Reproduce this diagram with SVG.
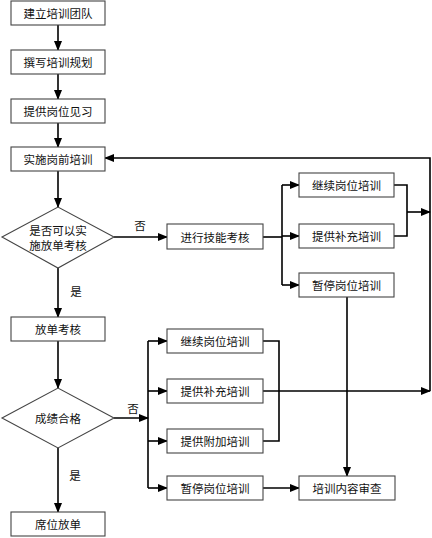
<svg xmlns="http://www.w3.org/2000/svg" width="432" height="538" viewBox="0 0 432 538">
<style>
.box{fill:#fff;stroke:#444;stroke-width:1.1}
.t{font-family:"Noto Sans CJK SC","Noto Sans",sans-serif;font-size:11.5px;fill:#111;text-anchor:middle;dominant-baseline:central}
.c{fill:none;stroke:#000;stroke-width:1.6}
.a{marker-end:url(#ah)}
</style>
<defs>
<marker id="ah" markerUnits="userSpaceOnUse" markerWidth="10" markerHeight="8" refX="9" refY="4" orient="auto">
<path d="M0,0 L10,4 L0,8 Z" fill="#000"/>
</marker>
</defs>
<g id="connectors">
<line class="c a" x1="58" y1="25" x2="58" y2="50"/>
<line class="c a" x1="58" y1="74" x2="58" y2="99"/>
<line class="c a" x1="58" y1="123" x2="58" y2="147"/>
<line class="c a" x1="58" y1="171" x2="58" y2="207"/>
<line class="c a" x1="58" y1="268" x2="58" y2="317"/>
<line class="c a" x1="58" y1="341" x2="58" y2="388"/>
<line class="c a" x1="58" y1="448" x2="58" y2="512"/>
<line class="c a" x1="114" y1="237" x2="167" y2="237"/>
<line class="c" x1="263" y1="237" x2="282" y2="237"/>
<line class="c" x1="282" y1="185" x2="282" y2="285"/>
<line class="c a" x1="282" y1="185" x2="299" y2="185"/>
<line class="c a" x1="282" y1="236" x2="299" y2="236"/>
<line class="c a" x1="282" y1="285" x2="299" y2="285"/>
<polyline class="c" points="394,185 407,185 407,236 394,236"/>
<line class="c a" x1="407" y1="212" x2="430" y2="212"/>
<polyline class="c a" points="430,391 430,158 105,158"/>
<line class="c a" x1="347" y1="297" x2="347" y2="476"/>
<line class="c a" x1="114" y1="418" x2="148" y2="418"/>
<line class="c" x1="148" y1="341" x2="148" y2="488"/>
<line class="c a" x1="148" y1="341" x2="167" y2="341"/>
<line class="c a" x1="148" y1="391" x2="167" y2="391"/>
<line class="c a" x1="148" y1="441" x2="167" y2="441"/>
<line class="c a" x1="148" y1="488" x2="167" y2="488"/>
<polyline class="c" points="263,341 279,341 279,441 263,441"/>
<line class="c a" x1="263" y1="391" x2="430" y2="391"/>
<line class="c a" x1="263" y1="488" x2="299" y2="488"/>
<text class="t" x="140" y="225">否</text>
<text class="t" x="76" y="291">是</text>
<text class="t" x="133" y="408">否</text>
<text class="t" x="75" y="475">是</text>
</g>
<g id="n1"><rect class="box" x="11" y="1" width="94" height="24"/><text class="t" x="58" y="13">建立培训团队</text></g>
<g id="n2"><rect class="box" x="11" y="50" width="94" height="24"/><text class="t" x="58" y="62">撰写培训规划</text></g>
<g id="n3"><rect class="box" x="11" y="99" width="94" height="24"/><text class="t" x="58" y="111">提供岗位见习</text></g>
<g id="n4"><rect class="box" x="11" y="147" width="94" height="24"/><text class="t" x="58" y="159">实施岗前培训</text></g>
<g id="d1"><polygon class="box" points="2,237 58,207 114,237 58,268"/><text class="t" x="58" y="230">是否可以实</text><text class="t" x="58" y="245">施放单考核</text></g>
<g id="n5"><rect class="box" x="167" y="224" width="96" height="25"/><text class="t" x="215" y="236.5">进行技能考核</text></g>
<g id="n6"><rect class="box" x="299" y="173" width="95" height="24"/><text class="t" x="346.5" y="185">继续岗位培训</text></g>
<g id="n7"><rect class="box" x="299" y="224" width="95" height="24"/><text class="t" x="346.5" y="236">提供补充培训</text></g>
<g id="n8"><rect class="box" x="299" y="273" width="95" height="24"/><text class="t" x="346.5" y="285">暂停岗位培训</text></g>
<g id="n9"><rect class="box" x="11" y="317" width="94" height="24"/><text class="t" x="58" y="329">放单考核</text></g>
<g id="d2"><polygon class="box" points="2,418 58,388 114,418 58,448"/><text class="t" x="58" y="418">成绩合格</text></g>
<g id="n10"><rect class="box" x="167" y="329" width="96" height="24"/><text class="t" x="215" y="341">继续岗位培训</text></g>
<g id="n11"><rect class="box" x="167" y="379" width="96" height="24"/><text class="t" x="215" y="391">提供补充培训</text></g>
<g id="n12"><rect class="box" x="167" y="429" width="96" height="24"/><text class="t" x="215" y="441">提供附加培训</text></g>
<g id="n13"><rect class="box" x="167" y="476" width="96" height="24"/><text class="t" x="215" y="488">暂停岗位培训</text></g>
<g id="n14"><rect class="box" x="299" y="476" width="96" height="24"/><text class="t" x="347" y="488">培训内容审查</text></g>
<g id="n15"><rect class="box" x="11" y="512" width="94" height="24"/><text class="t" x="58" y="524">席位放单</text></g>
</svg>
